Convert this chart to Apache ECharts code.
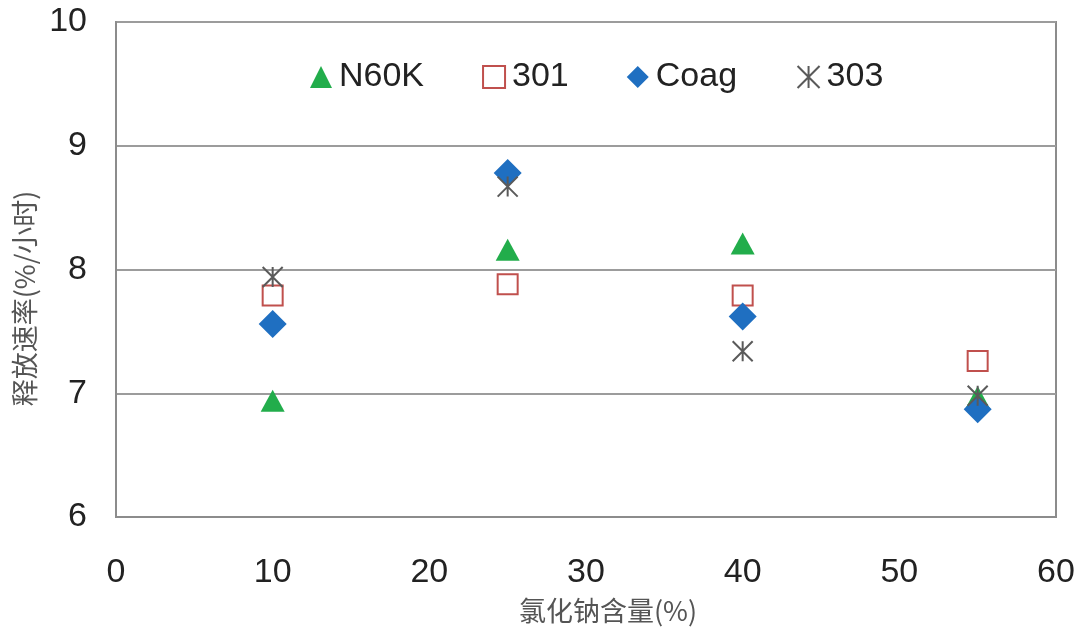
<!DOCTYPE html>
<html><head><meta charset="utf-8">
<script src="https://cdn.jsdelivr.net/npm/echarts@6/dist/echarts.min.js"></script>
<style>html,body{margin:0;padding:0;background:#fff}#c{width:1082px;height:632px}</style>
</head><body><div id="c"></div>
<script>
const xValues = [10, 25, 40, 55];
const seriesNames = ['N60K', '301', 'Coag', '303'];
const n60k = [6.94, 8.16, 8.21, 6.97];
const s301 = [7.79, 7.88, 7.79, 7.26];
const coag = [7.56, 8.78, 7.62, 6.87];
const s303 = [7.94, 8.67, 7.34, 6.98];
const xTicks = [0, 10, 20, 30, 40, 50, 60];
const yTicks = [6, 7, 8, 9, 10];

const starPath = 'path://M0,0L10,10M10,0L0,10M5,0L5,10';
const pair = arr => xValues.map((x, i) => [x, arr[i]]);
const LAT = "'Liberation Sans', Arial, sans-serif";
const CJK = "'Noto Sans CJK SC', sans-serif";

const chart = echarts.init(document.getElementById('c'));
chart.setOption({
  animation: false,
  backgroundColor: '#fff',
  grid: { left: 116, right: 26, top: 22, bottom: 115, show: true, borderColor: '#8c8c8c', borderWidth: 2 },
  legend: {
    left: 305, top: 55, itemGap: 58, itemWidth: 22, itemHeight: 22,
    textStyle: { fontFamily: LAT, fontSize: 34, color: '#222', padding: [0,0,0,2] },
    data: [
      { name: seriesNames[0], icon: 'triangle' },
      { name: seriesNames[1], icon: 'rect', itemStyle: { color: '#fff', borderColor: '#c0504d', borderWidth: 2 } },
      { name: seriesNames[2], icon: 'diamond' },
      { name: seriesNames[3], icon: starPath }
    ]
  },
  xAxis: {
    type: 'value', min: 0, max: 60, interval: 10,
    axisLine: { show: true, lineStyle: { color: '#8c8c8c', width: 2 } },
    axisTick: { show: false },
    splitLine: { show: false },
    axisLabel: { fontFamily: LAT, fontSize: 34, color: '#222', margin: 39,
      formatter: v => xTicks.includes(v) ? String(v) : '' },
    name: '氯化钠含量(%)', nameLocation: 'middle', nameGap: 80,
    nameTextStyle: { fontFamily: CJK, fontSize: 27, color: '#555', padding: [0,0,0,44] }
  },
  yAxis: {
    type: 'value', min: 6, max: 10, interval: 1,
    axisLine: { show: true, lineStyle: { color: '#8c8c8c', width: 2 } },
    axisTick: { show: false },
    splitLine: { show: true, lineStyle: { color: '#9c9c9c', width: 2 } },
    axisLabel: { fontFamily: LAT, fontSize: 34, color: '#222', margin: 29,
      formatter: v => yTicks.includes(v) ? String(v) : '' },
    name: '释放速率(%/小时)', nameLocation: 'middle', nameGap: 76,
    nameTextStyle: { fontFamily: CJK, fontSize: 27, color: '#555', padding: [0,58,0,0] }
  },
  series: [
    { name: seriesNames[0], type: 'scatter', symbol: 'triangle', symbolSize: [24, 22],
      itemStyle: { color: '#22ad4b', opacity: 1 }, data: pair(n60k), z: 2 },
    { name: seriesNames[1], type: 'scatter', symbol: 'rect', symbolSize: [20, 20],
      itemStyle: { color: '#fff', borderColor: '#c0504d', borderWidth: 2, opacity: 1 }, data: pair(s301), z: 3 },
    { name: seriesNames[2], type: 'scatter', symbol: 'diamond', symbolSize: [28, 28],
      itemStyle: { color: '#1f6fc1', opacity: 1 }, data: pair(coag), z: 4 },
    { name: seriesNames[3], type: 'scatter', symbol: starPath, symbolSize: [20, 20],
      itemStyle: { color: 'none', borderColor: '#5a5a5a', borderWidth: 2, opacity: 1 }, data: pair(s303), z: 5 }
  ]
});
</script></body></html>
